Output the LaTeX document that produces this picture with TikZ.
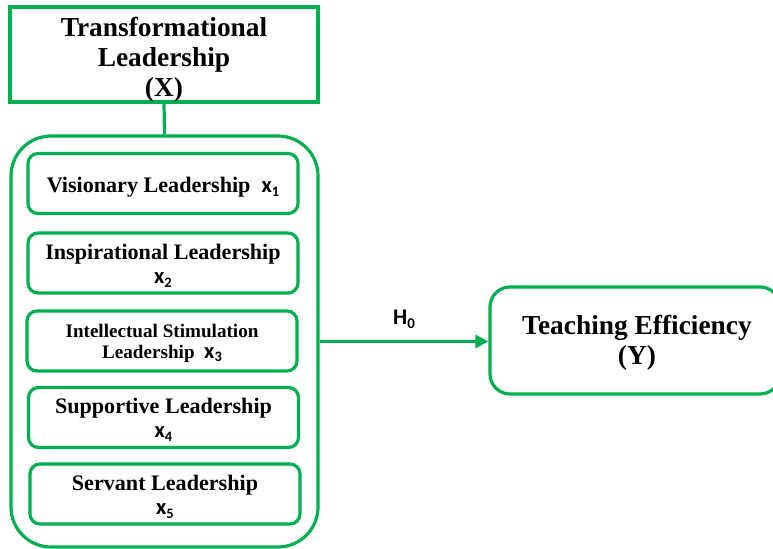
\documentclass[tikz,border=0pt]{standalone}
\usepackage{fontspec}
\setmainfont{Liberation Serif}
\newfontfamily\labfont{Carlito}
\usetikzlibrary{arrows.meta}
\definecolor{frame}{RGB}{0,176,80}
% variable label: bold sans x with a lowered index
\newcommand\varx[1]{{\labfont\bfseries\fontsize{22.5}{22.5}\selectfont x\raisebox{-0.35ex}{\fontsize{14.5}{14.5}\selectfont #1}}}
\newcommand\hyp[1]{{\labfont\bfseries\fontsize{22.5}{22.5}\selectfont H\raisebox{-0.35ex}{\fontsize{15}{15}\selectfont #1}}}
\begin{document}
\begin{tikzpicture}[x=1bp,y=-1bp,
  frameline/.style={draw=frame, line width=3.2bp},
  bigtext/.style={align=center, inner sep=0pt,
    font=\fontsize{27.5}{30}\selectfont\bfseries},
  itembox/.style={frameline, rounded corners=10bp, minimum width=270bp,
    minimum height=60bp},
  itemtext/.style={align=center, inner sep=0pt,
    font=\fontsize{22.2}{24.5}\selectfont\bfseries},
  link/.style={frame, line width=3.2bp}]
\useasboundingbox (0,0) rectangle (773,549);

% independent variable and its dimensions
\node[frameline, minimum width=308bp, minimum height=95bp] (tl) at (164,54.5) {};
\node[bigtext] (tltext) at (164,59.5) {Transformational\\Leadership\\(X)};
\node[frameline, rounded corners=40bp, minimum width=307bp, minimum height=411bp] (grp) at (164.5,341.5) {};

\node[itembox] (b1) at (163,183.5) {};
\node[itembox] (b2) at (163,263) {};
\node[itembox] (b3) at (162,341) {};
\node[itembox] (b4) at (163.5,417.5) {};
\node[itembox] (b5) at (165,494) {};

\node[itemtext] (t1) at ([yshift=-4bp]b1.center) {Visionary Leadership\enspace\varx{1}};
\node[itemtext] (t2) at ([yshift=-2.5bp]b2.center) {Inspirational Leadership\\\varx{2}};
\node[itemtext, font=\fontsize{19.2}{21}\selectfont\bfseries] (t3) at ([yshift=-2bp]b3.center)
  {Intellectual Stimulation\\Leadership\enspace\varx{3}};
\node[itemtext] (t4) at ([yshift=-2.5bp]b4.center) {Supportive Leadership\\\varx{4}};
\node[itemtext] (t5) at ([yshift=-2.5bp]b5.center) {Servant Leadership\\\varx{5}};

% dependent variable
\node[frameline, rounded corners=20bp, minimum width=290bp, minimum height=107bp] (ty) at (635,340.5) {};
\node[bigtext] (tytext) at (637,343) {Teaching Efficiency\\(Y)};

% connectors
\draw[link] (tl.south) -- (grp.north);
\draw[link, -{Triangle[length=13bp,width=13bp]}] (grp.east) -- (grp.east -| ty.west)
  node[midway, above=8bp, text=black] (h0) {\hyp{0}};
\end{tikzpicture}
\end{document}
